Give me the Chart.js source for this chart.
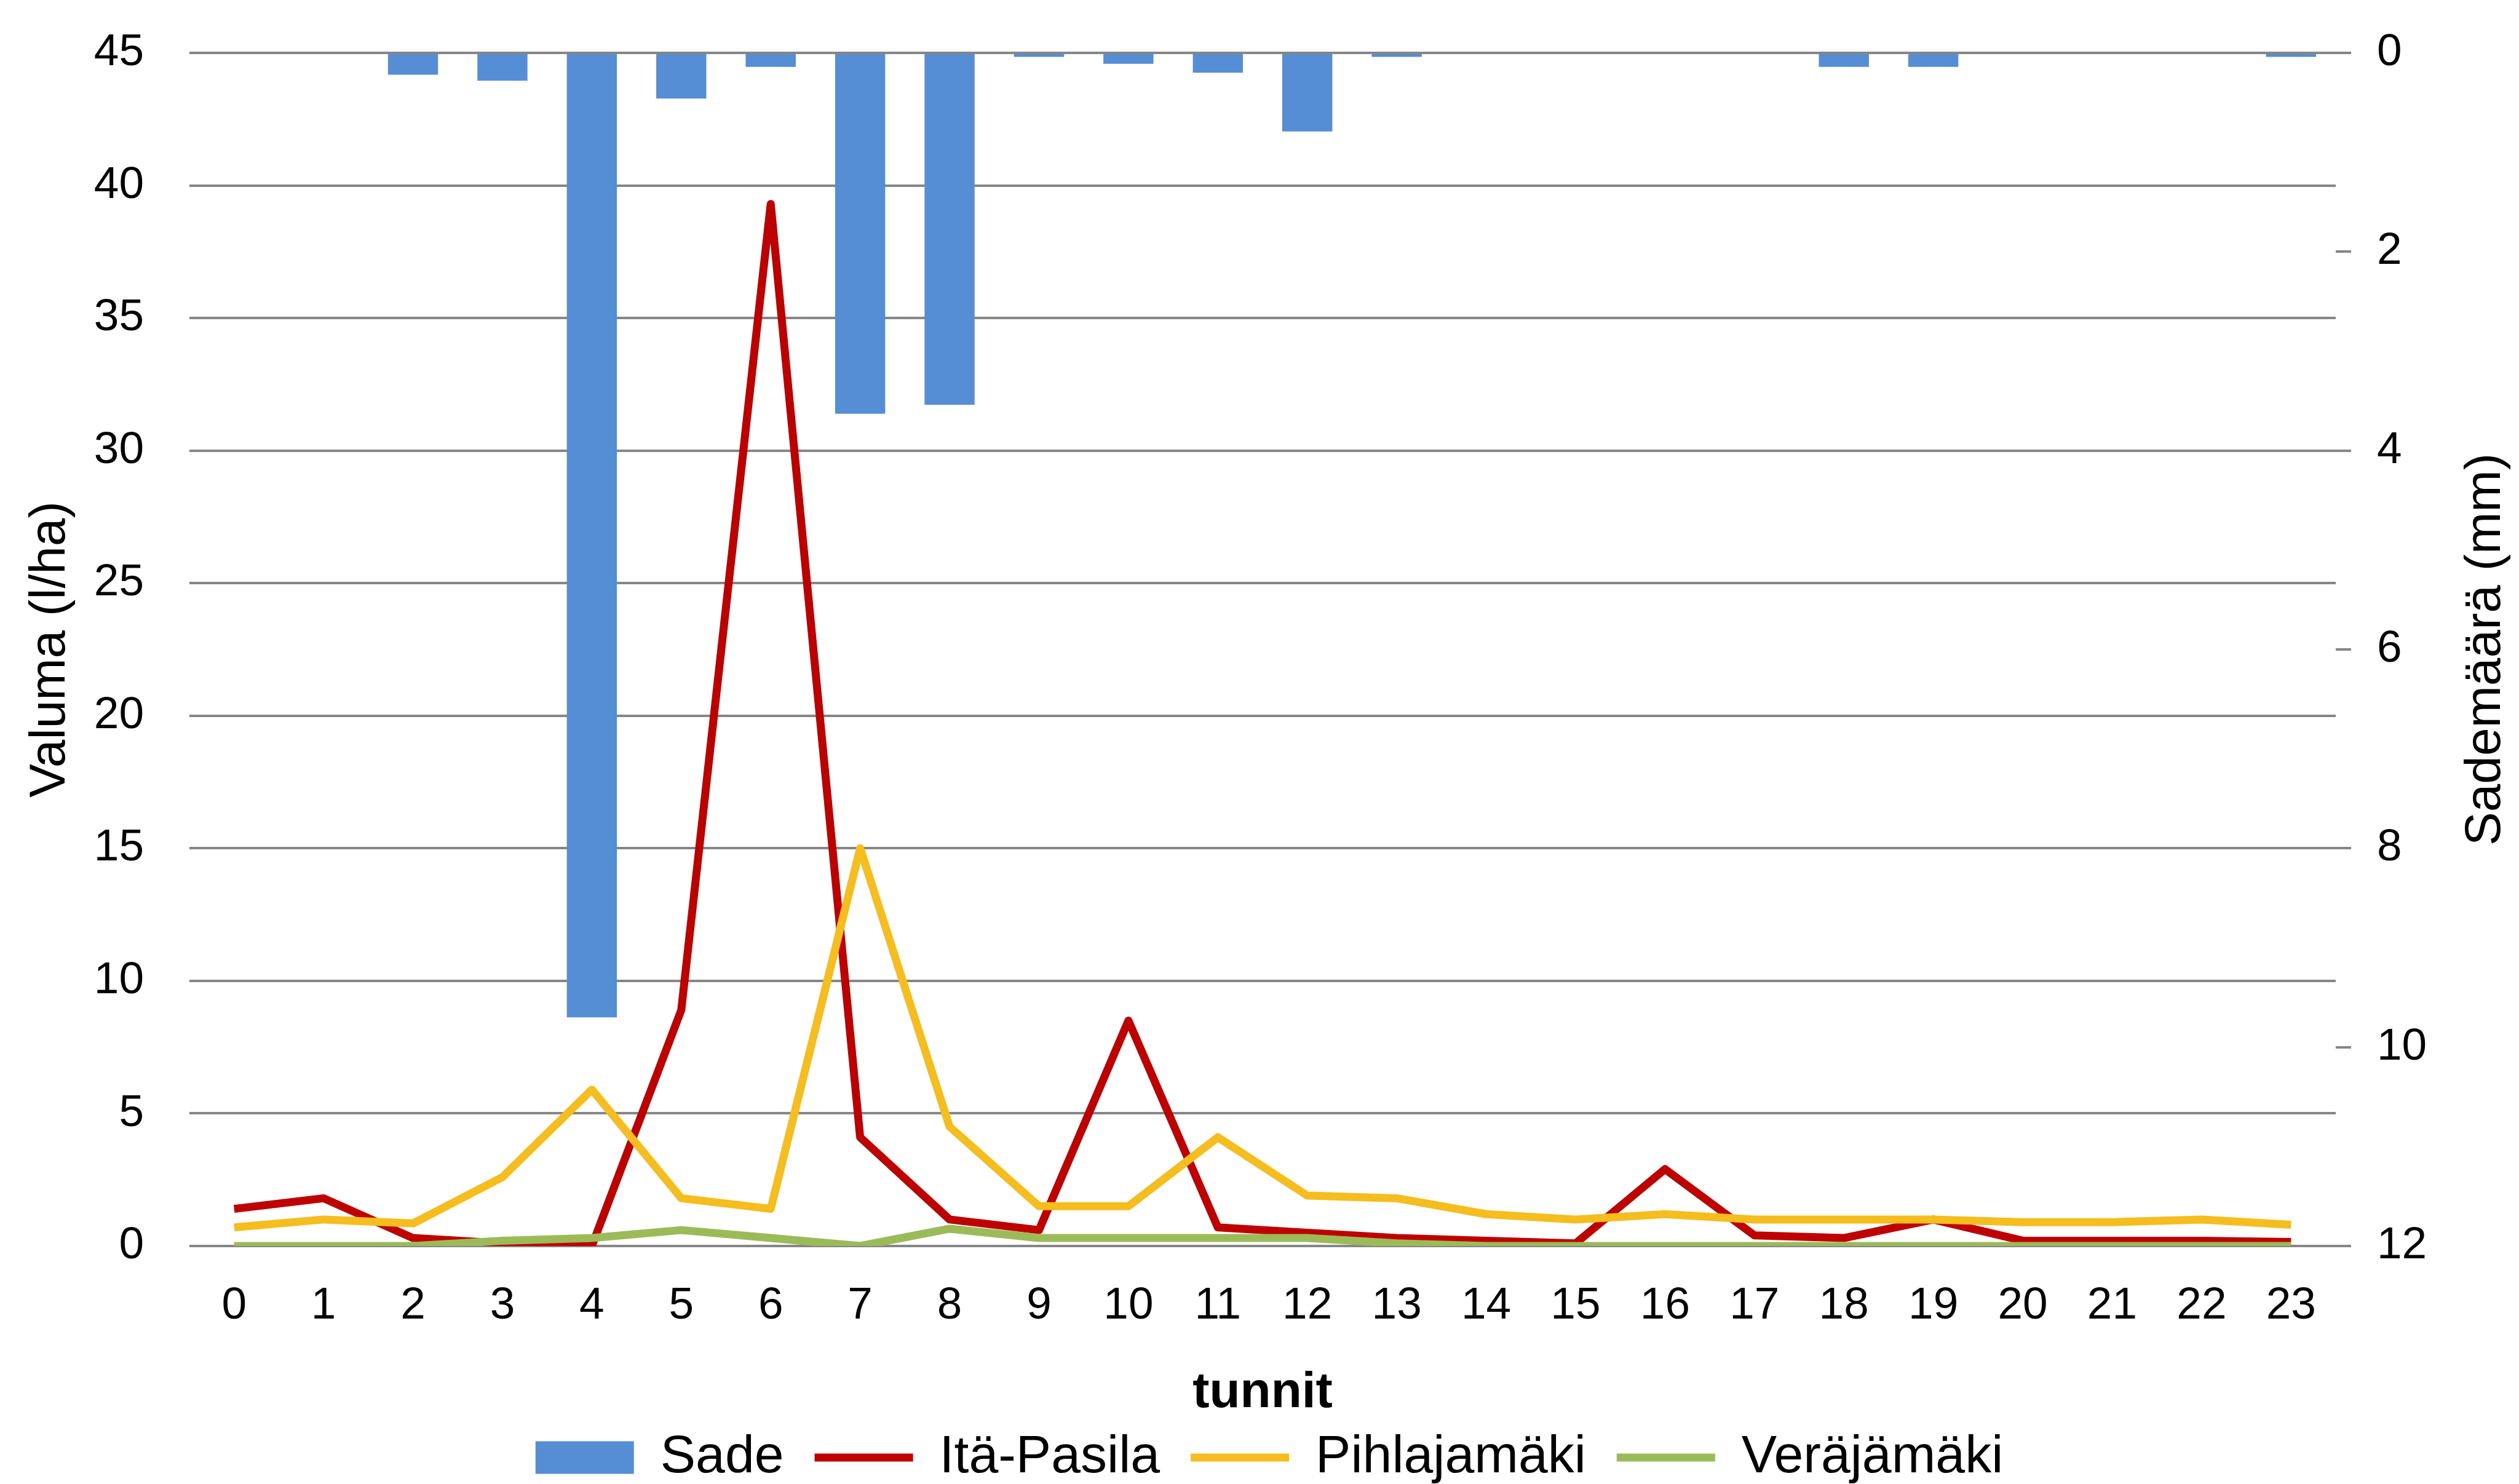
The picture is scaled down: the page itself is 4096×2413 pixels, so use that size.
<!DOCTYPE html>
<html>
<head>
<meta charset="utf-8">
<script src="https://cdn.jsdelivr.net/npm/chart.js@4.4.1/dist/chart.umd.min.js"></script>
<style>
  html, body { margin: 0; padding: 0; background: #fff; }
  #wrap { width: 4096px; height: 2413px; }
</style>
</head>
<body>
<div id="wrap"><canvas id="myChart" width="4096" height="2413"></canvas></div>
<script>
// hours of the day
const hours = ["0", "1", "2", "3", "4", "5", "6", "7", "8", "9", "10", "11",
  "12", "13", "14", "15", "16", "17", "18", "19", "20", "21", "22", "23"];

// rain (mm), right axis, drawn downwards from the top
const sade = [0, 0, 0.22, 0.28, 9.7, 0.46, 0.14, 3.63, 3.54, 0.04, 0.11, 0.2,
  0.79, 0.04, 0, 0, 0, 0, 0.14, 0.14, 0, 0, 0, 0.04];

// runoff (l/ha), left axis
const itaPasila = [1.4, 1.8, 0.3, 0.1, 0, 8.9, 39.3, 4.1, 1.0, 0.6, 8.5, 0.7,
  0.5, 0.3, 0.2, 0.1, 2.9, 0.4, 0.3, 1.0, 0.2, 0.2, 0.2, 0.15];
const pihlajamaki = [0.7, 1.0, 0.85, 2.6, 5.9, 1.8, 1.4, 15.0, 4.5, 1.5, 1.5, 4.1,
  1.9, 1.8, 1.2, 1.0, 1.2, 1.0, 1.0, 1.0, 0.9, 0.9, 1.0, 0.8];
const verajamaki = [0, 0, 0, 0.2, 0.3, 0.6, 0.3, 0, 0.65, 0.3, 0.3, 0.3,
  0.3, 0.1, 0, 0, 0, 0, 0, 0, 0, 0, 0, 0];

const leftTicks = [0, 5, 10, 15, 20, 25, 30, 35, 40, 45];
const rightTicks = [0, 2, 4, 6, 8, 10, 12];

const xTitle = "tunnit";
const leftTitle = "Valuma (l/ha)";
const rightTitle = "Sademäärä (mm)";

const FONT = "'Liberation Sans', Arial, sans-serif";
const TEXT = "#000";
const GRID = "#868686";
const LEGEND_PAD = 50;

// Chart.js turns a right-hand title top-to-bottom, the original reads bottom-to-top
const rightTitlePlugin = {
  id: "rightTitle",
  afterDraw(chart) {
    const s = chart.scales.y1;
    const area = chart.chartArea;
    const ctx = chart.ctx;
    ctx.save();
    ctx.font = "82px " + FONT;
    ctx.fillStyle = TEXT;
    ctx.textAlign = "center";
    ctx.textBaseline = "middle";
    ctx.translate(s.right - 54, (area.top + area.bottom) / 2);
    ctx.rotate(-Math.PI / 2);
    ctx.fillText(rightTitle, 0, 0);
    ctx.restore();
  },
};

const lineSet = (label, data, color, order) => ({
  type: "line",
  label: label,
  data: data,
  yAxisID: "y",
  borderColor: color,
  backgroundColor: color,
  borderWidth: 13,
  borderJoinStyle: "round",
  pointRadius: 0,
  pointStyle: "line",
  tension: 0,
  order: order,
});

const ctx = document.getElementById("myChart");
new Chart(ctx, {
  type: "bar",
  data: {
    labels: hours,
    datasets: [
      {
        type: "bar",
        label: "Sade",
        data: sade,
        yAxisID: "y1",
        backgroundColor: "#558ed5",
        borderWidth: 0,
        barPercentage: 0.56,
        categoryPercentage: 1,
        pointStyle: "rect",
        order: 4,
      },
      lineSet("Itä-Pasila", itaPasila, "#bf0000", 3),
      lineSet("Pihlajamäki", pihlajamaki, "#f5be1e", 2),
      lineSet("Veräjämäki", verajamaki, "#9bbb59", 1),
    ],
  },
  options: {
    responsive: false,
    devicePixelRatio: 1,
    animation: false,
    events: [],
    layout: { padding: { left: 32, top: 86, right: 0, bottom: -10 } },
    plugins: {
      tooltip: { enabled: false },
      legend: {
        position: "bottom",
        labels: {
          usePointStyle: true,
          pointStyleWidth: 160,
          boxHeight: 53,
          padding: LEGEND_PAD,
          color: TEXT,
          font: { family: FONT, size: 86 },
          sort: (a, b) => a.datasetIndex - b.datasetIndex,
        },
      },
    },
    scales: {
      x: {
        grid: { display: false, drawTicks: false },
        border: { display: false },
        ticks: {
          color: TEXT,
          font: { family: FONT, size: 73 },
          padding: 54,
          maxRotation: 0,
          autoSkip: false,
        },
        title: {
          display: true,
          text: xTitle,
          color: TEXT,
          font: { family: FONT, size: 82, weight: "bold" },
          padding: { top: 0, bottom: -38 },
        },
        // keep the plot bottom where the original has it
        afterFit: (s) => { s.height = 2413 + 10 - 2026 - (86 + LEGEND_PAD + 10); },
      },
      y: {
        position: "left",
        min: 0,
        max: 45,
        afterBuildTicks: (s) => { s.ticks = leftTicks.map((v) => ({ value: v })); },
        ticks: { color: TEXT, font: { family: FONT, size: 73 }, padding: 42 },
        grid: { color: GRID, lineWidth: 4, drawTicks: true, tickLength: 32, tickColor: "rgba(0,0,0,0)" },
        border: { display: false },
        title: {
          display: true,
          text: leftTitle,
          color: TEXT,
          font: { family: FONT, size: 82 },
          padding: { top: 1, bottom: 0 },
        },
        afterFit: (s) => { s.width = 276; },
      },
      y1: {
        position: "right",
        min: 0,
        max: 12,
        reverse: true,
        afterBuildTicks: (s) => { s.ticks = rightTicks.map((v) => ({ value: v })); },
        ticks: { color: TEXT, font: { family: FONT, size: 73 }, padding: 42 },
        grid: { drawOnChartArea: false, color: GRID, lineWidth: 4, tickLength: 25 },
        border: { display: false },
        afterFit: (s) => { s.width = 298; },
      },
    },
  },
  plugins: [rightTitlePlugin],
});
</script>
</body>
</html>
